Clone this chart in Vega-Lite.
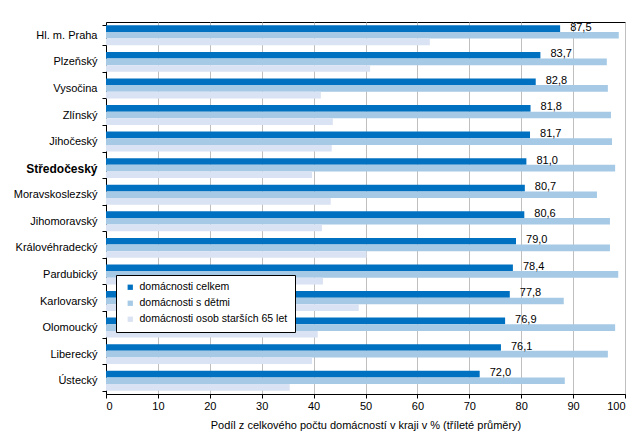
{
  "$schema": "https://vega.github.io/schema/vega-lite/v6.json",
  "width": 519,
  "height": 372,
  "autosize": {"type": "none"},
  "padding": {"left": 106, "top": 22, "right": 18, "bottom": 45},
  "config": {
    "font": "Liberation Sans",
    "view": {"stroke": "#000000", "strokeWidth": 1},
    "locale": {"number": {"decimal": ",", "thousands": " ", "grouping": [3], "currency": ["", " Kč"]}}
  },
  "data": {
    "values": [
      {"kraj": "Hl. m. Praha", "serie": "domácnosti celkem", "hodnota": 87.5},
      {"kraj": "Hl. m. Praha", "serie": "domácnosti s dětmi", "hodnota": 98.8},
      {"kraj": "Hl. m. Praha", "serie": "domácnosti osob starších 65 let", "hodnota": 62.4},
      {"kraj": "Plzeňský", "serie": "domácnosti celkem", "hodnota": 83.7},
      {"kraj": "Plzeňský", "serie": "domácnosti s dětmi", "hodnota": 96.5},
      {"kraj": "Plzeňský", "serie": "domácnosti osob starších 65 let", "hodnota": 50.9},
      {"kraj": "Vysočina", "serie": "domácnosti celkem", "hodnota": 82.8},
      {"kraj": "Vysočina", "serie": "domácnosti s dětmi", "hodnota": 96.7},
      {"kraj": "Vysočina", "serie": "domácnosti osob starších 65 let", "hodnota": 41.4},
      {"kraj": "Zlínský", "serie": "domácnosti celkem", "hodnota": 81.8},
      {"kraj": "Zlínský", "serie": "domácnosti s dětmi", "hodnota": 97.3},
      {"kraj": "Zlínský", "serie": "domácnosti osob starších 65 let", "hodnota": 43.7},
      {"kraj": "Jihočeský", "serie": "domácnosti celkem", "hodnota": 81.7},
      {"kraj": "Jihočeský", "serie": "domácnosti s dětmi", "hodnota": 97.5},
      {"kraj": "Jihočeský", "serie": "domácnosti osob starších 65 let", "hodnota": 43.5},
      {"kraj": "Středočeský", "serie": "domácnosti celkem", "hodnota": 81.0},
      {"kraj": "Středočeský", "serie": "domácnosti s dětmi", "hodnota": 98.1},
      {"kraj": "Středočeský", "serie": "domácnosti osob starších 65 let", "hodnota": 39.7},
      {"kraj": "Moravskoslezský", "serie": "domácnosti celkem", "hodnota": 80.7},
      {"kraj": "Moravskoslezský", "serie": "domácnosti s dětmi", "hodnota": 94.6},
      {"kraj": "Moravskoslezský", "serie": "domácnosti osob starších 65 let", "hodnota": 43.3},
      {"kraj": "Jihomoravský", "serie": "domácnosti celkem", "hodnota": 80.6},
      {"kraj": "Jihomoravský", "serie": "domácnosti s dětmi", "hodnota": 97.1},
      {"kraj": "Jihomoravský", "serie": "domácnosti osob starších 65 let", "hodnota": 41.6},
      {"kraj": "Královéhradecký", "serie": "domácnosti celkem", "hodnota": 79.0},
      {"kraj": "Královéhradecký", "serie": "domácnosti s dětmi", "hodnota": 97.1},
      {"kraj": "Královéhradecký", "serie": "domácnosti osob starších 65 let", "hodnota": 50.2},
      {"kraj": "Pardubický", "serie": "domácnosti celkem", "hodnota": 78.4},
      {"kraj": "Pardubický", "serie": "domácnosti s dětmi", "hodnota": 98.7},
      {"kraj": "Pardubický", "serie": "domácnosti osob starších 65 let", "hodnota": 41.8},
      {"kraj": "Karlovarský", "serie": "domácnosti celkem", "hodnota": 77.8},
      {"kraj": "Karlovarský", "serie": "domácnosti s dětmi", "hodnota": 88.2},
      {"kraj": "Karlovarský", "serie": "domácnosti osob starších 65 let", "hodnota": 48.7},
      {"kraj": "Olomoucký", "serie": "domácnosti celkem", "hodnota": 76.9},
      {"kraj": "Olomoucký", "serie": "domácnosti s dětmi", "hodnota": 98.1},
      {"kraj": "Olomoucký", "serie": "domácnosti osob starších 65 let", "hodnota": 40.8},
      {"kraj": "Liberecký", "serie": "domácnosti celkem", "hodnota": 76.1},
      {"kraj": "Liberecký", "serie": "domácnosti s dětmi", "hodnota": 96.7},
      {"kraj": "Liberecký", "serie": "domácnosti osob starších 65 let", "hodnota": 39.7},
      {"kraj": "Ústecký", "serie": "domácnosti celkem", "hodnota": 72.0},
      {"kraj": "Ústecký", "serie": "domácnosti s dětmi", "hodnota": 88.4},
      {"kraj": "Ústecký", "serie": "domácnosti osob starších 65 let", "hodnota": 35.4}
    ]
  },
  "encoding": {
    "y": {
      "field": "kraj",
      "type": "nominal",
      "sort": null,
      "scale": {"paddingInner": 0.25, "paddingOuter": 0.125},
      "axis": {
        "title": null,
        "domainColor": "#000000",
        "tickColor": "#000000",
        "tickSize": 4,
        "tickBand": "extent",
        "labelPadding": 5,
        "labelColor": "#000000",
        "labelFontSize": {"condition": {"test": "datum.value === 'Středočeský'", "value": 12}, "value": 11},
        "labelFontWeight": {"condition": {"test": "datum.value === 'Středočeský'", "value": "bold"}, "value": "normal"}
      }
    },
    "yOffset": {
      "field": "serie",
      "type": "nominal",
      "sort": ["domácnosti celkem", "domácnosti s dětmi", "domácnosti osob starších 65 let"],
      "scale": {"paddingInner": 0, "paddingOuter": 0}
    },
    "x": {
      "field": "hodnota",
      "type": "quantitative",
      "scale": {"domain": [0, 100], "nice": false},
      "axis": {
        "title": "Podíl  z celkového počtu domácností v kraji v % (tříleté průměry)",
        "titleFontSize": 11,
        "titleFontWeight": "normal",
        "titleColor": "#000000",
        "titlePadding": 8,
        "values": [0, 10, 20, 30, 40, 50, 60, 70, 80, 90, 100],
        "labelFontSize": 11,
        "labelColor": "#000000",
        "domainColor": "#000000",
        "tickColor": "#000000",
        "tickSize": 4,
        "grid": true,
        "gridColor": "#BFBFBF",
        "gridWidth": 1
      }
    }
  },
  "layer": [
    {
      "mark": {"type": "bar"},
      "encoding": {
        "color": {
          "field": "serie",
          "type": "nominal",
          "sort": ["domácnosti celkem", "domácnosti s dětmi", "domácnosti osob starších 65 let"],
          "scale": {
            "domain": ["domácnosti celkem", "domácnosti s dětmi", "domácnosti osob starších 65 let"],
            "range": ["#0070C0", "#A6CAE6", "#DAE3F3"]
          },
          "legend": {
            "orient": "none",
            "legendX": 10,
            "legendY": 253,
            "title": null,
            "strokeColor": "#000000",
            "fillColor": "#FFFFFF",
            "padding": 7,
            "symbolType": "square",
            "symbolSize": 28,
            "symbolStrokeWidth": 0,
            "symbolOffset": 2,
            "labelOffset": 4,
            "labelFontSize": 10.5,
            "labelColor": "#000000",
            "rowPadding": 5,
            "labelLimit": 300
          }
        }
      }
    },
    {
      "transform": [{"filter": "datum.serie === 'domácnosti celkem'"}],
      "mark": {"type": "text", "align": "left", "baseline": "middle", "dx": 10, "dy": -1, "fontSize": 11, "color": "#000000"},
      "encoding": {
        "text": {"field": "hodnota", "type": "quantitative", "format": ".1f"},
        "fontWeight": {"condition": {"test": "datum.kraj === 'Středočeský'", "value": "bold"}, "value": "normal"}
      }
    }
  ]
}
